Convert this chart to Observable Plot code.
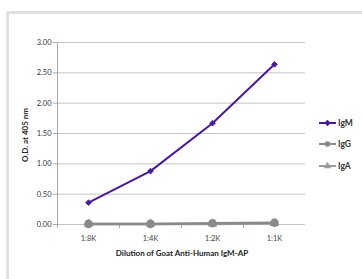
<!DOCTYPE html>
<html>
<head>
<meta charset="utf-8">
<script src="https://cdn.jsdelivr.net/npm/d3@7"></script>
<script src="https://cdn.jsdelivr.net/npm/@observablehq/plot@0.6"></script>
<style>
  html, body { margin: 0; padding: 0; background: #fff; overflow: hidden; }
  #wrap { position: relative; width: 362px; height: 279px; font-family: Lato, "Open Sans", sans-serif; }
  #frame { position: absolute; left: 6px; top: 11px; width: 400px; height: 320px; border: 3px solid #e2e2e2; box-sizing: border-box; }
  #chart { position: absolute; left: 0; top: 0; }
  .title { position: absolute; font-weight: bold; font-size: 8px; color: #222; white-space: nowrap; }
  #ytitle { left: 25px; top: 135px; transform: translate(-50%, -50%) rotate(-90deg); }
  #xtitle { left: 182px; top: 253px; transform: translate(-50%, -50%); }
  #legend { position: absolute; left: 318px; top: 112px; }
  .row { height: 21.5px; display: flex; align-items: center; font-weight: bold; font-size: 8.5px; color: #333; }
  .row svg { margin-right: 1px; }
</style>
</head>
<body>
<div id="wrap">
  <div id="frame"></div>
  <div id="chart"></div>
  <div class="title" id="ytitle">O.D. at 405 nm</div>
  <div class="title" id="xtitle">Dilution of Goat Anti-Human IgM-AP</div>
  <div id="legend"></div>
</div>
<script>
const dilutions = ["1:8K", "1:4K", "1:2K", "1:1K"];
const igm = [0.36, 0.88, 1.67, 2.64];
const igg = [0.01, 0.01, 0.02, 0.03];
const iga = [0.01, 0.01, 0.01, 0.02];
const yTicks = [0, 0.5, 1, 1.5, 2, 2.5, 3];
const seriesNames = ["IgM", "IgG", "IgA"];
const seriesColors = ["#4a16a6", "#8a8a8a", "#9a9a9a"];

const rows = (vals) => dilutions.map((d, i) => ({dilution: d, value: vals[i]}));
const dM = rows(igm), dG = rows(igg), dA = rows(iga);

const chart = Plot.plot({
  width: 362,
  height: 279,
  marginLeft: 57,
  marginRight: 57,
  marginTop: 42,
  marginBottom: 55,
  style: {fontFamily: "Lato, 'Open Sans', sans-serif", fontSize: "7.5px", color: "#333", background: "transparent"},
  x: {type: "point", domain: dilutions, padding: 0.5},
  y: {domain: [0, 3]},
  marks: [
    Plot.ruleY(yTicks, {stroke: "#c4c4c4", strokeWidth: 1}),
    Plot.frame({anchor: "left", stroke: "#a8a8a8"}),
    Plot.axisY({ticks: yTicks, tickFormat: d => d.toFixed(2), tickSize: 4, tickPadding: 2, label: null, stroke: "#a8a8a8", fill: "#333"}),
    Plot.axisX({tickSize: 0, tickPadding: 11, label: null, fill: "#444"}),
    Plot.axisX({tickSize: 4, text: null, label: null, dx: -31, stroke: "#a8a8a8"}),
    Plot.line(dM, {x: "dilution", y: "value", stroke: seriesColors[0], strokeWidth: 2}),
    Plot.dot(dM, {x: "dilution", y: "value", symbol: "diamond2", fill: seriesColors[0], stroke: seriesColors[0], strokeWidth: 0.8, r: 2.6}),
    Plot.line(dA, {x: "dilution", y: "value", stroke: seriesColors[2], strokeWidth: 2.5}),
    Plot.dot(dA, {x: "dilution", y: "value", symbol: "triangle", fill: seriesColors[2], r: 3.5}),
    Plot.line(dG, {x: "dilution", y: "value", stroke: seriesColors[1], strokeWidth: 2.5}),
    Plot.dot(dG, {x: "dilution", y: "value", symbol: "circle", fill: seriesColors[1], r: 4.3})
  ]
});
document.getElementById("chart").appendChild(chart);

// legend
const legend = d3.select("#legend");
seriesNames.forEach((name, i) => {
  const row = legend.append("div").attr("class", "row");
  const svg = row.append("svg").attr("width", 19).attr("height", 10);
  svg.append("line").attr("x1", 1).attr("x2", 18).attr("y1", 5).attr("y2", 5)
    .attr("stroke", seriesColors[i]).attr("stroke-width", 2);
  const sym = d3.symbol().type(
    i === 0 ? d3.symbolDiamond2 : i === 1 ? d3.symbolCircle : d3.symbolTriangle
  ).size(i === 0 ? 26 : 24);
  svg.append("path").attr("d", sym()).attr("transform", "translate(9.5,5)").attr("fill", seriesColors[i]);
  row.append("span").text(name);
});
</script>
</body>
</html>
